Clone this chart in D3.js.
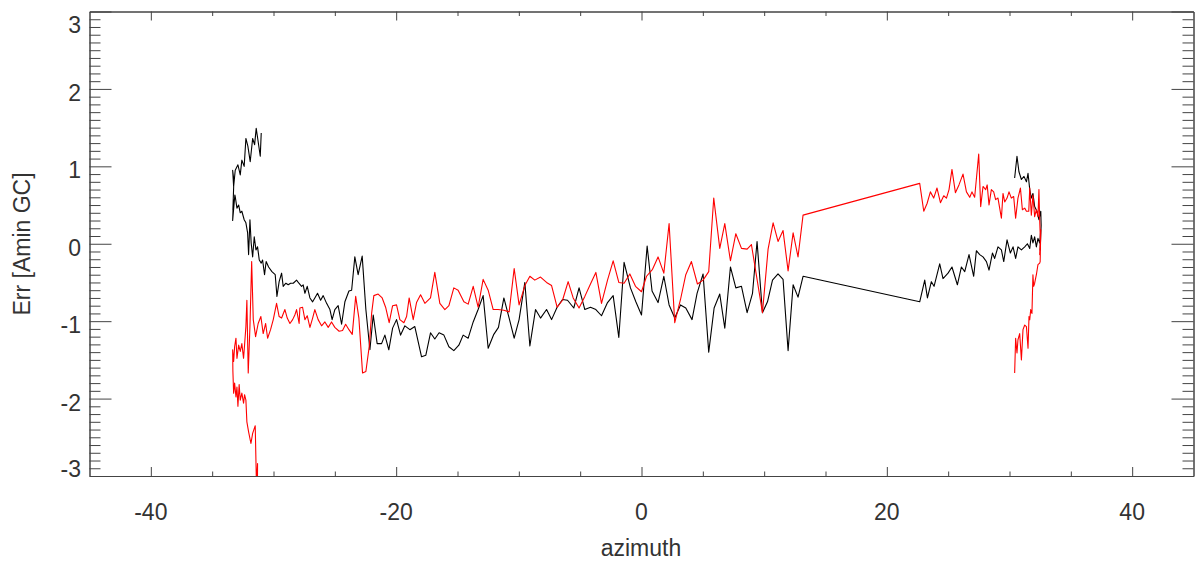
<!DOCTYPE html>
<html><head><meta charset="utf-8">
<script src="https://cdn.jsdelivr.net/npm/d3@7"></script>
<style>body{margin:0;background:#fff}svg{display:block}text{font-family:"Liberation Sans",Arial,Helvetica,sans-serif;fill:#333}</style>
</head><body><svg id="c" width="1198" height="566"></svg>
<script>
const xDomain=[-45,45], yDomain=[-3,3];
const xMajor=[-40,-20,0,20,40];
const yMajor=[-3,-2,-1,0,1,2,3];
const xLabel="azimuth", yLabel="Err [Amin GC]";

// black series [azimuth, err]
const blackAz=[-31.00,-31.08,-31.27,-31.41,-31.54,-31.70,-31.90,-32.09,-32.25,-32.39,-32.58,-32.71,-32.90,-33.12,-33.25,-33.33,-33.23,-33.31,-33.27,-33.33,-33.15,-33.12,-32.98,-32.84,-32.71,-32.58,-32.39,-32.25,-32.11,-32.03,-31.92,-31.82,-31.70,-31.57,-31.43,-31.30,-31.16,-31.00,-30.89,-30.73,-30.60,-30.40,-30.13,-29.86,-29.72,-29.54,-29.34,-29.21,-28.99,-28.80,-28.61,-28.39,-28.12,-27.93,-27.71,-27.58,-27.44,-27.25,-27.03,-26.81,-26.63,-26.41,-26.16,-25.95,-25.67,-25.40,-25.22,-25.00,-24.73,-24.45,-24.18,-23.85,-23.63,-23.37,-23.10,-22.77,-22.47,-22.14,-21.87,-21.55,-21.19,-20.92,-20.60,-20.29,-19.97,-19.64,-19.29,-18.88,-18.48,-17.93,-17.58,-17.20,-16.85,-16.50,-16.11,-15.70,-15.30,-14.89,-14.54,-14.13,-13.72,-13.32,-12.91,-12.50,-12.04,-11.66,-11.22,-10.79,-10.38,-9.98,-9.51,-9.10,-8.64,-8.23,-7.74,-7.33,-6.88,-6.44,-6.03,-5.52,-5.09,-4.62,-4.16,-3.72,-3.26,-2.77,-2.31,-1.85,-1.42,-0.90,-0.46,0.00,0.46,0.86,1.35,1.82,2.25,2.71,3.18,3.61,4.12,4.53,5.02,5.48,5.92,6.38,6.79,7.25,7.69,8.15,8.61,9.05,9.42,9.86,10.27,10.68,11.13,11.54,11.95,12.36,12.76,13.17,22.68,23.09,23.31,23.63,23.85,24.31,24.58,24.99,25.31,25.75,26.08,26.35,26.70,27.08,27.30,27.57,27.84,28.12,28.33,28.61,28.79,29.06,29.34,29.53,29.80,30.07,30.29,30.50,30.69,30.97,31.24,31.46,31.65,31.78,31.91,32.05,32.19,32.32,32.46,32.55,32.50,32.58,32.55,32.40,32.24,32.05,31.91,31.78,31.65,31.51,31.38,31.18,30.97,30.77,30.61,30.42];
const blackErr=[1.43,1.13,1.34,1.49,1.28,1.36,1.06,1.26,1.36,1.00,1.08,0.89,1.02,0.95,0.74,0.95,0.82,0.44,0.57,0.30,0.63,0.61,0.46,0.50,0.40,0.42,0.31,0.27,0.14,-0.14,0.31,0.01,-0.17,0.09,-0.08,-0.04,-0.21,-0.25,-0.21,-0.40,-0.23,-0.30,-0.36,-0.40,-0.68,-0.49,-0.38,-0.55,-0.51,-0.53,-0.51,-0.51,-0.47,-0.51,-0.55,-0.53,-0.64,-0.55,-0.70,-0.75,-0.70,-0.64,-0.73,-0.67,-0.77,-0.85,-0.98,-0.85,-0.80,-1.04,-0.75,-0.61,-0.60,-0.17,-0.40,-0.16,-0.85,-1.37,-0.92,-1.29,-1.29,-1.18,-1.37,-1.09,-0.98,-1.18,-1.06,-1.11,-1.07,-1.46,-1.44,-1.15,-1.23,-1.15,-1.18,-1.33,-1.38,-1.31,-1.18,-1.22,-1.01,-0.85,-0.67,-1.35,-1.17,-1.08,-0.70,-0.96,-1.22,-0.98,-0.50,-1.32,-0.85,-0.96,-0.85,-0.98,-0.82,-0.72,-0.73,-0.83,-0.57,-0.85,-0.82,-0.85,-0.93,-0.76,-0.67,-1.21,-0.24,-0.57,-0.75,-0.92,-0.03,-0.61,-0.76,-0.42,-0.79,-0.96,-0.79,-0.83,-0.98,-0.64,-0.39,-1.40,-0.83,-0.65,-1.09,-0.30,-0.57,-0.55,-0.89,-0.64,0.03,-0.89,-0.75,-0.47,-0.39,-0.46,-1.38,-0.53,-0.69,-0.42,-0.75,-0.47,-0.70,-0.49,-0.55,-0.26,-0.45,-0.38,-0.30,-0.53,-0.30,-0.36,-0.14,-0.42,-0.09,-0.14,-0.17,-0.23,-0.34,-0.12,-0.19,-0.04,-0.08,-0.23,0.05,-0.12,-0.04,-0.19,-0.04,-0.08,-0.04,0.00,-0.06,0.11,0.01,0.09,-0.04,0.07,0.01,0.18,-0.08,0.24,0.42,0.31,0.42,0.48,0.65,0.59,0.70,0.91,0.80,0.87,0.83,0.93,1.13,0.85];

// red series [azimuth, err]
const redAz=[-31.31,-31.30,-31.39,-31.49,-31.70,-31.84,-32.03,-32.17,-32.25,-32.36,-32.44,-32.58,-32.71,-32.80,-32.90,-32.98,-33.06,-33.17,-33.25,-33.31,-33.33,-33.25,-33.17,-33.06,-32.98,-32.84,-32.71,-32.58,-32.44,-32.36,-32.25,-32.17,-32.06,-31.92,-31.78,-31.65,-31.46,-31.25,-31.03,-30.84,-30.64,-30.48,-30.24,-30.02,-29.75,-29.54,-29.34,-29.07,-28.88,-28.66,-28.44,-28.26,-28.12,-27.91,-27.85,-27.63,-27.44,-27.25,-27.03,-26.81,-26.63,-26.36,-26.08,-25.81,-25.54,-25.27,-25.00,-24.65,-24.37,-24.12,-23.85,-23.58,-23.30,-23.04,-22.74,-22.47,-22.20,-22.00,-21.82,-21.47,-21.14,-20.86,-20.57,-20.29,-19.97,-19.70,-19.37,-19.15,-18.94,-18.61,-18.34,-18.01,-17.66,-17.20,-16.85,-16.44,-16.03,-15.70,-15.30,-14.95,-14.48,-14.13,-13.72,-13.32,-12.91,-12.50,-12.09,-11.69,-11.22,-10.79,-10.38,-9.98,-9.51,-9.10,-8.70,-8.23,-7.74,-7.33,-6.88,-6.44,-5.98,-5.57,-5.09,-4.62,-4.16,-3.72,-3.26,-2.77,-2.31,-1.85,-1.42,-0.95,-0.49,0.00,0.41,0.90,1.35,1.82,2.25,2.71,3.18,3.61,4.07,4.56,5.02,5.48,5.89,6.38,6.79,7.25,7.69,8.15,8.61,8.96,9.86,10.32,10.73,11.13,11.54,11.95,12.36,12.76,13.17,22.68,23.01,23.28,23.55,23.82,24.09,24.37,24.64,24.86,25.07,25.31,25.59,25.88,26.21,26.49,26.76,26.94,27.16,27.49,27.65,27.84,28.06,28.18,28.33,28.52,28.71,28.87,29.06,29.34,29.47,29.61,29.80,29.96,30.15,30.34,30.50,30.69,30.89,31.05,31.24,31.38,31.57,31.65,31.78,31.91,32.05,32.19,32.32,32.40,32.46,32.52,32.46,32.55,32.50,32.46,32.32,32.19,32.05,31.97,31.91,31.83,31.73,31.65,31.59,31.51,31.38,31.24,31.10,30.97,30.83,30.69,30.61,30.50,30.42];
const redErr=[-3.18,-2.84,-3.12,-2.35,-2.45,-2.58,-2.43,-2.30,-2.02,-1.95,-2.06,-1.93,-2.02,-1.82,-2.10,-1.85,-1.98,-1.80,-1.93,-1.65,-1.37,-1.52,-1.33,-1.22,-1.48,-1.31,-1.39,-1.29,-1.48,-1.31,-1.07,-0.73,-1.67,-1.07,-0.23,-0.98,-1.20,-1.03,-0.94,-1.16,-1.03,-1.22,-1.11,-0.98,-0.77,-0.94,-0.96,-0.85,-0.96,-1.03,-0.98,-0.92,-0.85,-1.03,-0.83,-0.82,-0.98,-0.93,-1.08,-0.96,-0.85,-0.98,-1.06,-1.01,-1.08,-1.01,-1.08,-1.13,-1.12,-1.04,-1.11,-1.17,-0.68,-0.96,-1.67,-1.65,-1.33,-0.90,-0.67,-0.65,-0.70,-0.82,-1.02,-0.80,-0.79,-0.98,-1.02,-0.94,-0.70,-0.98,-0.76,-0.66,-0.77,-0.70,-0.37,-0.77,-0.85,-0.80,-0.57,-0.60,-0.75,-0.78,-0.55,-0.82,-0.46,-0.60,-0.85,-0.85,-0.86,-0.88,-0.32,-0.79,-0.54,-0.42,-0.47,-0.43,-0.50,-0.54,-0.82,-0.73,-0.49,-0.70,-0.83,-0.68,-0.52,-0.37,-0.77,-0.47,-0.22,-0.50,-0.51,-0.39,-0.55,-0.62,-0.42,-0.33,-0.17,-0.38,0.26,-1.02,-0.72,-0.40,-0.23,-0.52,-0.47,-0.36,0.59,-0.06,0.26,-0.22,0.13,-0.06,-0.07,-0.01,-0.89,-0.07,0.27,0.03,0.17,-0.35,0.14,-0.17,0.37,0.78,0.42,0.52,0.67,0.59,0.72,0.53,0.62,0.59,0.70,0.96,0.66,0.76,0.90,0.67,0.60,0.67,0.60,1.16,0.48,0.74,0.70,0.76,0.50,0.70,0.67,0.57,0.59,0.33,0.65,0.54,0.59,0.67,0.59,0.61,0.33,0.59,0.72,0.44,0.46,0.42,0.42,0.72,0.37,0.63,0.35,0.44,0.35,0.70,0.31,0.05,-0.14,0.18,-0.23,-0.25,-0.27,-0.40,-0.51,-0.55,-0.40,-0.90,-0.85,-0.98,-0.94,-1.35,-1.07,-1.05,-1.11,-1.50,-1.16,-1.24,-1.41,-1.22,-1.67];

const svg=d3.select("#c");
const L=89.5, R=1193.5, T=11.5, B=476;
const x=d3.scaleLinear().domain(xDomain).range([L,R]);
const y=d3.scaleLinear().domain(yDomain).range([B,T]);
const frame="#444";

svg.append("defs").append("clipPath").attr("id","clip").append("rect")
  .attr("x",L).attr("y",T).attr("width",R-L).attr("height",B-T);

const line=d3.line().x(d=>x(d[0])).y(d=>y(d[1]));
const series=[[blackAz,blackErr,"#000"],[redAz,redErr,"#ff0000"]];
series.forEach(([a,e,c])=>{
  const pts=a.map((v,i)=>[v,e[i]]);
  svg.append("path").datum(pts).attr("d",line).attr("fill","none")
    .attr("stroke",c).attr("stroke-width",1.1).attr("stroke-linejoin","round")
    .attr("clip-path","url(#clip)");
});

// axes (mirrored, inward ticks)
const xMinor=d3.range(-45,45.01,5).filter(v=>!xMajor.includes(v)&&v>-45&&v<45);
const yMinor=d3.range(-30,30.5,1).map(v=>v/10).filter(v=>!yMajor.includes(v));
function ax(gen,tr){const g=svg.append("g").attr("transform",tr).call(gen);
  g.selectAll("path,line").attr("stroke",frame).attr("stroke-width",1);g.selectAll("text").remove();return g;}
ax(d3.axisBottom(x).tickValues(xMajor).tickSize(-9).tickSizeOuter(0),`translate(0,${B})`);
ax(d3.axisBottom(x).tickValues(xMinor).tickSize(-4.5).tickSizeOuter(0),`translate(0,${B})`);
ax(d3.axisTop(x).tickValues(xMajor).tickSize(-9).tickSizeOuter(0),`translate(0,${T})`);
ax(d3.axisTop(x).tickValues(xMinor).tickSize(-4.5).tickSizeOuter(0),`translate(0,${T})`);
ax(d3.axisLeft(y).tickValues(yMajor).tickSize(-22).tickSizeOuter(0),`translate(${L},0)`);
ax(d3.axisLeft(y).tickValues(yMinor).tickSize(-11).tickSizeOuter(0),`translate(${L},0)`);
ax(d3.axisRight(y).tickValues(yMajor).tickSize(-22).tickSizeOuter(0),`translate(${R},0)`);
ax(d3.axisRight(y).tickValues(yMinor).tickSize(-11).tickSizeOuter(0),`translate(${R},0)`);

// tick labels
svg.append("g").selectAll("text").data(xMajor).join("text")
  .attr("x",d=>x(d)).attr("y",520).attr("text-anchor","middle")
  .attr("font-size",23).text(d=>d);
svg.append("g").selectAll("text").data(yMajor).join("text")
  .attr("x",81).attr("y",d=>y(d)+ (d===3?21:(d===-3?1:12)))
  .attr("text-anchor","end").attr("font-size",23).text(d=>d);

svg.append("text").attr("x",641).attr("y",556).attr("text-anchor","middle")
  .attr("font-size",23).text(xLabel);
svg.append("text").attr("transform","translate(30,244) rotate(-90)")
  .attr("text-anchor","middle").attr("font-size",23).text(yLabel);
</script></body></html>
